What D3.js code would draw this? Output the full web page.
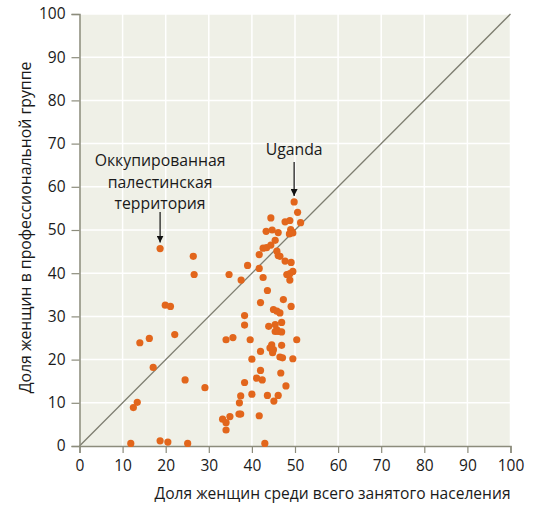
<!DOCTYPE html>
<html><head><meta charset="utf-8">
<script src="https://cdn.jsdelivr.net/npm/d3@7"></script>
<style>body{margin:0;background:#fff}svg{display:block}text{font-family:"Open Sans",sans-serif}</style>
</head><body>
<svg id="c" width="536" height="506"></svg>
<script>
const xTicks = [0,10,20,30,40,50,60,70,80,90,100];
const yTicks = [0,10,20,30,40,50,60,70,80,90,100];
const xTitle = "Доля женщин среди всего занятого населения";
const yTitle = "Доля женщин в профессиональной группе";
const labelPalestine = ["Оккупированная","палестинская","территория"];
const labelUganda = "Uganda";
const palestine = [18.7,45.7];
const uganda = [49.8,56.5];
const shareTotal = [18.7,26.4,26.6,19.9,21.1,22.1,14.0,16.2,17.1,24.5,29.1,13.4,12.5,11.9,18.7,20.5,25.1,
 33.2,34.9,34.0,34.0,37.0,37.4,41.7,43.0,37.1,37.4,40.0,43.6,46.1,45.1,38.3,47.9,41.1,42.4,42.0,46.7,40.0,42.0,46.5,47.1,49.5,44.6,44.2,45.0,44.8,46.9,34.0,35.6,39.6,50.4,
 43.9,45.4,45.8,45.4,46.1,46.9,46.9,38.3,38.3,45.0,45.8,46.5,49.1,47.3,42.0,43.6,
 48.8,48.1,48.8,49.5,42.6,37.5,34.7,41.7,39.0,47.7,49.1,41.7,46.1,46.5,45.8,42.6,43.4,44.4,45.4,43.3,44.7,46.1,49.0,48.7,49.5,49.3,44.4,47.7,48.8,51.3,50.6,49.8];
const shareGroup = [45.7,43.9,39.7,32.6,32.3,25.8,23.9,24.9,18.2,15.3,13.5,10.1,8.9,0.6,1.2,0.9,0.6,
 6.2,6.8,5.4,3.7,7.4,7.4,7.0,0.6,10.0,11.6,12.0,11.7,11.7,10.4,14.7,13.9,15.7,15.3,17.5,16.9,20.1,21.9,20.6,20.4,20.2,23.4,22.7,22.3,21.6,23.3,24.6,25.1,24.6,24.6,
 27.7,28.1,26.9,26.5,26.5,26.4,28.6,28.0,30.2,31.6,31.2,30.8,32.3,33.9,33.2,36.0,
 38.4,39.7,39.9,40.4,39.0,38.4,39.7,41.1,41.8,42.8,42.5,44.3,44.1,43.9,45.1,45.8,45.9,46.5,47.6,49.7,50.0,49.4,50.1,49.1,49.3,49.6,52.8,51.9,52.2,51.7,54.1,56.5];

const svg = d3.select("#c");
const x = d3.scaleLinear().domain([0,100]).range([79.5,510.5]);
const y = d3.scaleLinear().domain([0,100]).range([446,14]);
const axisCol = "#8c8c7c";

svg.append("rect").attr("x",x(0)).attr("y",y(100)).attr("width",x(100)-x(0)).attr("height",y(0)-y(100)).attr("fill","#eff0e7");
const g = svg.append("g");
g.selectAll(".vg").data(xTicks.slice(1)).join("line")
  .attr("x1",d=>x(d)).attr("x2",d=>x(d)).attr("y1",y(0)).attr("y2",y(100))
  .attr("stroke","#fff").attr("stroke-width",1.5);
g.selectAll(".hg").data(yTicks.slice(1)).join("line")
  .attr("x1",x(0)).attr("x2",x(100)).attr("y1",d=>y(d)).attr("y2",d=>y(d))
  .attr("stroke","#fff").attr("stroke-width",1.5);

// diagonal
svg.append("line").attr("x1",x(0)).attr("y1",y(0)).attr("x2",x(100)).attr("y2",y(100))
  .attr("stroke","#7d7d70").attr("stroke-width",1.3);

// axes
const xa = svg.append("g").attr("transform",`translate(0,${y(0)})`)
  .call(d3.axisBottom(x).tickValues(xTicks).tickSize(7).tickPadding(7));
const ya = svg.append("g").attr("transform",`translate(${x(0)},0)`)
  .call(d3.axisLeft(y).tickValues(yTicks).tickSize(8).tickPadding(6));
[xa,ya].forEach(a=>{
  a.select(".domain").attr("stroke",axisCol).attr("stroke-width",1.5);
  a.selectAll(".tick line").attr("stroke",axisCol).attr("stroke-width",1.2);
  a.selectAll(".tick text").attr("fill","#1a1a1a").attr("font-size",15.5).attr("font-family","Open Sans");
});

// points
const pts = shareTotal.map((v,i)=>[v,shareGroup[i]]);
svg.selectAll(".pt").data(pts).join("circle")
  .attr("cx",d=>x(d[0])).attr("cy",d=>y(d[1])).attr("r",3.6).attr("fill","#e2661c");

// titles
svg.append("text").attr("x",332.5).attr("y",499).attr("text-anchor","middle")
  .attr("font-size",15.6).attr("fill","#1a1a1a").text(xTitle);
svg.append("text").attr("transform",`translate(31,${227.5}) rotate(-90)`).attr("text-anchor","middle")
  .attr("font-size",15.8).attr("fill","#1a1a1a").text(yTitle);

// annotations
const ann = svg.append("g").attr("font-size",15.8).attr("fill","#1a1a1a").attr("text-anchor","middle");
labelPalestine.forEach((t,i)=>ann.append("text").attr("x",x(palestine[0])).attr("y",166+i*21.5).text(t));
ann.append("text").attr("x",x(uganda[0])).attr("y",155).text(labelUganda);
svg.append("defs").append("marker").attr("id","ar").attr("viewBox","0 0 10 10").attr("refX",10).attr("refY",5)
  .attr("markerWidth",7).attr("markerHeight",7).attr("markerUnits","userSpaceOnUse").attr("orient","auto")
  .append("path").attr("d","M0,0L10,5L0,10Z").attr("fill","#111");
svg.append("line").attr("x1",x(palestine[0])).attr("x2",x(palestine[0])).attr("y1",212).attr("y2",y(palestine[1])-6)
  .attr("stroke","#111").attr("stroke-width",1.2).attr("marker-end","url(#ar)");
svg.append("line").attr("x1",x(uganda[0])).attr("x2",x(uganda[0])).attr("y1",162).attr("y2",y(uganda[1])-6)
  .attr("stroke","#111").attr("stroke-width",1.2).attr("marker-end","url(#ar)");
</script>
</body></html>
